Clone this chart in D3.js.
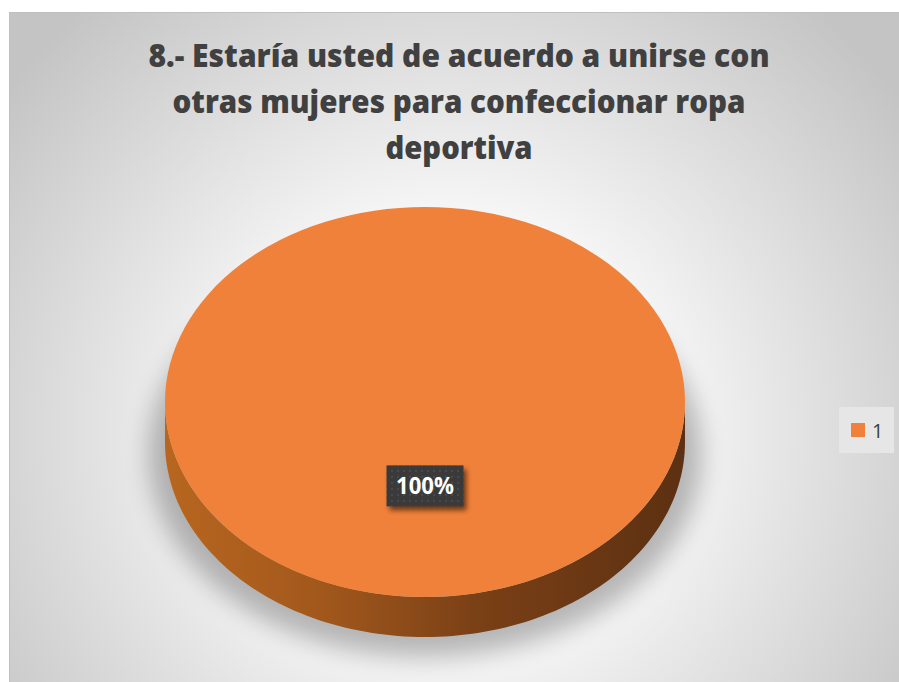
<!DOCTYPE html>
<html>
<head>
<meta charset="utf-8">
<script src="https://cdn.jsdelivr.net/npm/d3@7"></script>
<style>
  html, body { margin: 0; padding: 0; background: #ffffff; }
  svg { display: block; }
</style>
</head>
<body>
<svg id="chart" width="899" height="682"></svg>
<script>
// Chart content
const titleLines = [
  "8.- Estaría usted de acuerdo a unirse con",
  "otras mujeres para confeccionar ropa",
  "deportiva"
];
const categories = ["1"];
const values = [100];
const sliceColors = ["#F0813A"];

const W = 899, H = 682;
const svg = d3.select("#chart");
const defs = svg.append("defs");

// Chart area background: soft radial light falling off to gray
const bg = defs.append("radialGradient").attr("id", "bgGrad")
  .attr("gradientUnits", "userSpaceOnUse")
  .attr("cx", 450).attr("cy", 430).attr("r", 560);
bg.append("stop").attr("offset", "0%").attr("stop-color", "#ffffff");
bg.append("stop").attr("offset", "40%").attr("stop-color", "#f5f5f5");
bg.append("stop").attr("offset", "100%").attr("stop-color", "#c4c4c4");

svg.append("rect")
  .attr("x", 9.5).attr("y", 12.5).attr("width", W).attr("height", H)
  .attr("fill", "url(#bgGrad)").attr("stroke", "#c0c0c0").attr("stroke-width", 1);

// Title
const titleG = svg.append("g").attr("fill", "#404040")
  .attr("font-family", "'Open Sans', 'Noto Sans', sans-serif")
  .attr("font-weight", 800).attr("font-size", 32);
const titleBaselines = [67, 113, 159];
const titleWidths = [621, 573, 147];
titleLines.forEach((t, i) => {
  titleG.append("text")
    .attr("x", 459).attr("y", titleBaselines[i])
    .attr("text-anchor", "middle")
    .attr("textLength", titleWidths[i])
    .attr("lengthAdjust", "spacingAndGlyphs")
    .text(t);
});

// 3D pie geometry
const cx = 425, cy = 402, rx = 260, ry = 195, depth = 40;

const pie = d3.pie().sort(null).value(d => d)
  .startAngle(0).endAngle(2 * Math.PI);
const slices = pie(values);

// Unit-circle arc, later stretched into an ellipse
const unitArc = d3.arc().innerRadius(0).outerRadius(1);

// Drop shadow under the pie
const shadowF = defs.append("filter").attr("id", "pieShadow")
  .attr("x", "-30%").attr("y", "-30%").attr("width", "160%").attr("height", "160%");
shadowF.append("feGaussianBlur").attr("stdDeviation", 12);

svg.append("ellipse")
  .attr("cx", cx).attr("cy", cy + depth + 12)
  .attr("rx", rx + 16).attr("ry", ry + 8)
  .attr("fill", "#000").attr("opacity", 0.26)
  .attr("filter", "url(#pieShadow)");

// Side wall gradient: lit at left, falling into shade at right
const sideGrad = defs.append("linearGradient").attr("id", "sideGrad")
  .attr("gradientUnits", "userSpaceOnUse")
  .attr("x1", cx - rx).attr("y1", 0).attr("x2", cx + rx).attr("y2", 0);
sideGrad.append("stop").attr("offset", "0%").attr("stop-color", "#b8661f");
sideGrad.append("stop").attr("offset", "30%").attr("stop-color", "#a2581c");
sideGrad.append("stop").attr("offset", "60%").attr("stop-color", "#7a4016");
sideGrad.append("stop").attr("offset", "100%").attr("stop-color", "#5c3012");

// Point on the rim for a d3-pie angle (0 at top, clockwise)
function rim(a, dy) {
  return [cx + rx * Math.sin(a), cy - ry * Math.cos(a) + (dy || 0)];
}

// Side wall: only the front half (angles between PI/2 and 3PI/2) is visible
const sideG = svg.append("g");
slices.forEach((s, i) => {
  const a0 = Math.max(s.startAngle, Math.PI / 2);
  const a1 = Math.min(s.endAngle, 3 * Math.PI / 2);
  if (a1 <= a0) return;
  const steps = 120;
  const top = d3.range(steps + 1).map(k => rim(a0 + (a1 - a0) * k / steps, 0));
  const bot = d3.range(steps + 1).map(k => rim(a1 - (a1 - a0) * k / steps, depth));
  sideG.append("path")
    .attr("d", d3.line()(top.concat(bot)) + "Z")
    .attr("fill", "url(#sideGrad)");
});

// Top faces
const topG = svg.append("g")
  .attr("transform", `translate(${cx},${cy}) scale(${rx},${ry})`);
topG.selectAll("path").data(slices).join("path")
  .attr("d", unitArc)
  .attr("fill", (d, i) => sliceColors[i]);

// Data label with dotted dark box
const pat = defs.append("pattern").attr("id", "dots")
  .attr("patternUnits", "userSpaceOnUse").attr("width", 6).attr("height", 6);
pat.append("rect").attr("width", 6).attr("height", 6).attr("fill", "#3a3a3a");
pat.append("rect").attr("x", 2).attr("y", 2).attr("width", 2).attr("height", 2).attr("fill", "#4a4a4a");

const boxShadow = defs.append("filter").attr("id", "boxShadow")
  .attr("x", "-30%").attr("y", "-30%").attr("width", "160%").attr("height", "160%");
boxShadow.append("feGaussianBlur").attr("stdDeviation", 2.5);

const total = d3.sum(values);
const fmt = d3.format(".0%");
slices.forEach((s, i) => {
  const full = (s.endAngle - s.startAngle) >= 2 * Math.PI - 1e-6;
  const mid = (s.startAngle + s.endAngle) / 2;
  // a single full slice carries its label at the face's lower middle
  const r = full ? 0.43 : 0.6;
  const lx = cx + (full ? 0 : rx * r * Math.sin(mid));
  const ly = cy + (full ? ry * r : -ry * r * Math.cos(mid));
  const bw = 77, bh = 41;
  const g = svg.append("g").attr("transform", `translate(${lx},${ly})`);
  g.append("rect").attr("x", -bw / 2 + 3).attr("y", -bh / 2 + 4)
    .attr("width", bw).attr("height", bh)
    .attr("fill", "#000").attr("opacity", 0.55).attr("filter", "url(#boxShadow)");
  g.append("rect").attr("x", -bw / 2).attr("y", -bh / 2)
    .attr("width", bw).attr("height", bh).attr("fill", "url(#dots)");
  g.append("text").attr("x", 0).attr("y", 8.5)
    .attr("text-anchor", "middle")
    .attr("font-family", "'Open Sans', 'Noto Sans', sans-serif")
    .attr("font-weight", "bold").attr("font-size", 23)
    .attr("fill", "#ffffff")
    .attr("textLength", 58).attr("lengthAdjust", "spacingAndGlyphs")
    .text(fmt(values[i] / total));
});

// Legend
const leg = svg.append("g").attr("transform", "translate(839,407)");
leg.append("rect").attr("width", 55).attr("height", 46).attr("fill", "#e6e6e6");
categories.forEach((c, i) => {
  const row = leg.append("g").attr("transform", `translate(12,${16 + i * 22})`);
  row.append("rect").attr("width", 14).attr("height", 14).attr("fill", sliceColors[i]);
  row.append("text").attr("x", 21).attr("y", 15)
    .attr("font-family", "'Open Sans', 'Noto Sans', sans-serif")
    .attr("font-size", 20).attr("fill", "#404040")
    .text(c);
});
</script>
</body>
</html>
